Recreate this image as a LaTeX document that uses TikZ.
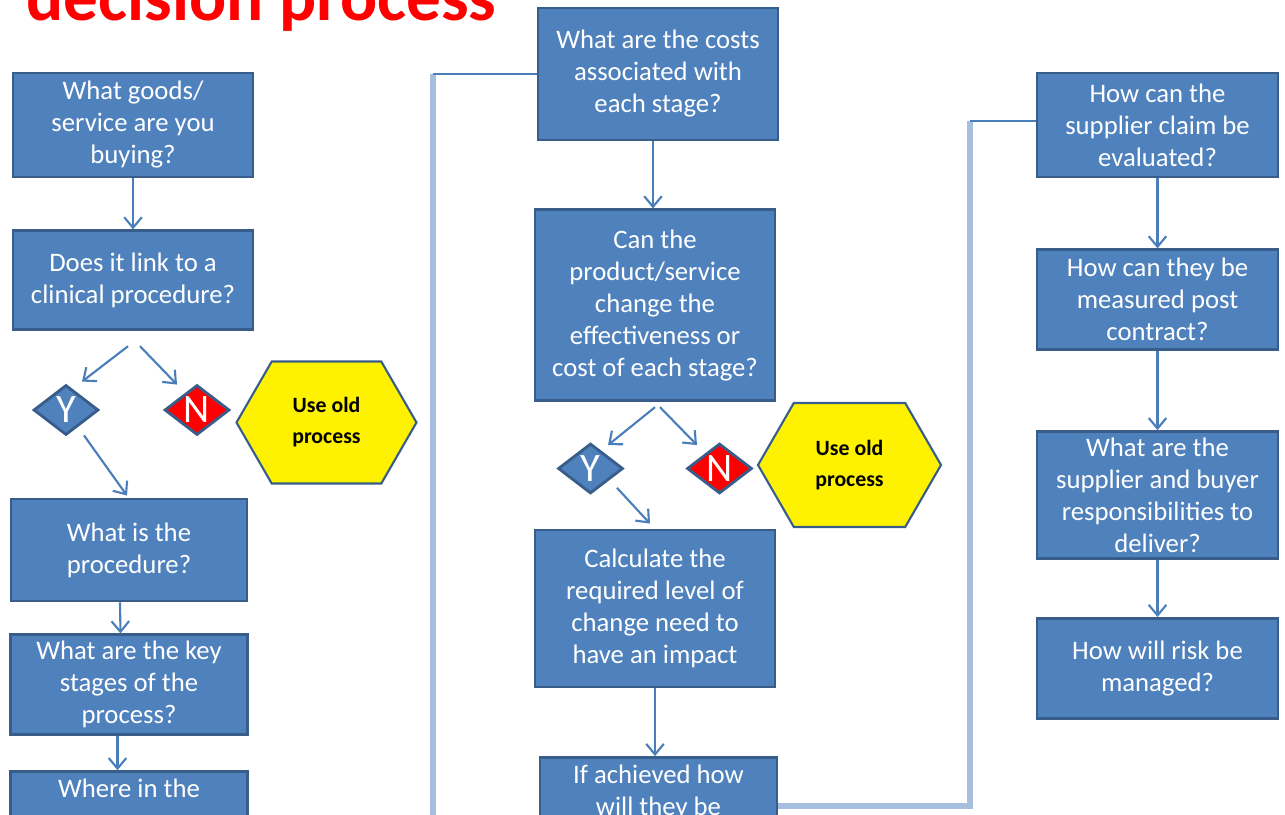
\documentclass[tikz,border=0pt]{standalone}
\usepackage{fontspec}
\setmainfont{Carlito}
\usetikzlibrary{arrows.meta,positioning,calc,shapes.geometric,shapes.symbols}
\definecolor{boxblue}{HTML}{4F81BD}
\definecolor{boxline}{HTML}{385D8A}
\definecolor{linkblue}{HTML}{4A7EBB}
\definecolor{paleblue}{HTML}{A7BFDE}
\definecolor{titlered}{HTML}{FF0000}
\tikzset{main base/.style={draw=boxline,line width=0.8pt,text centered,align=center}, }
\tikzset{main node/.style={rectangle,main base,fill=boxblue,text=white,
    inner xsep=2pt,inner ysep=0.5pt,minimum width=2.4cm,
    font=\fontsize{7.6}{9.1}\selectfont}, }
\tikzset{choice base/.style={diamond,main base,inner sep=0pt,
    minimum width=0.65cm,minimum height=0.5cm}, }
\tikzset{yes node/.style={choice base,fill=boxblue,
    label={[text=white,font=\fontsize{11.5}{12}\selectfont]center:Y}}, }
\tikzset{no node/.style={choice base,fill=red,
    label={[text=white,font=\fontsize{11.5}{12}\selectfont]center:N}}, }
\tikzset{old node/.style={signal,signal to=east and west,signal pointer angle=120,
    main base,line width=0.6pt,fill=yellow,inner sep=1pt,
    minimum width=1.8cm,minimum height=1.22cm,
    font=\fontsize{6.2}{8.8}\selectfont\bfseries}, }
\tikzset{title text/.style={anchor=base west,inner sep=0pt,text=titlered,
    font=\fontsize{19.7}{24}\selectfont\bfseries}, }
\tikzset{linea/.style={-{Straight Barb[length=3pt,width=5pt]},draw=linkblue,line width=0.6pt}}
\tikzset{linea2/.style={draw=linkblue,line width=0.7pt}}
\tikzset{linea3/.style={draw=paleblue,line width=1.9pt}}

\begin{document}
\begin{tikzpicture}
  \useasboundingbox (0,0) rectangle (12.85,-8.15);
  \node[title text] (0) at (0.26,-0.21) {decision process};
  % left column
  \node[main node,minimum height=1.04cm] (1) at (1.33,-1.25) {What goods/\\service are you\\buying?};
  \node[main node,minimum height=0.99cm] (2) [below=0.51cm of 1] {Does it link to a\\clinical procedure?};
  \node[yes node] (3) at (0.66,-4.10) {};
  \node[no node] (4) at (1.97,-4.10) {};
  \node[old node] (5) at (3.265,-4.225) {Use old\\process};
  \node[main node,minimum width=2.36cm,minimum height=1.02cm] (6) at (1.29,-5.50) {What is the\\procedure?};
  \node[main node,minimum width=2.37cm,minimum height=1.0cm] (7) [below=0.31cm of 6] {What are the key\\stages of the\\process?};
  \node[main node,minimum width=2.37cm,minimum height=0.98cm] (8) [below=0.34cm of 7] {Where in the\\~\\~};
  % middle column
  \node[main node,minimum height=1.32cm] (9) at (6.58,-0.74) {What are the costs\\associated with\\each stage?};
  \node[main node,minimum height=1.91cm] (10) [below=0.67cm of 9,xshift=-0.03cm] {Can the\\product/service\\change the\\effectiveness or\\cost of each stage?};
  \node[yes node] (11) at (5.905,-4.685) {};
  \node[no node] (12) at (7.195,-4.685) {};
  \node[old node,minimum width=1.83cm,minimum height=1.24cm] (13) at (8.495,-4.65) {Use old\\process};
  \node[main node,minimum height=1.57cm] (14) at (6.55,-6.085) {Calculate the\\required level of\\change need to\\have an impact};
  \node[main node,minimum width=2.37cm,minimum height=0.97cm] (15) at (6.585,-8.06) {If achieved how\\will they be\\~};
  % right column
  \node[main node,minimum width=2.41cm,minimum height=1.04cm] (16) at (11.575,-1.25) {How can the\\supplier claim be\\evaluated?};
  \node[main node,minimum width=2.41cm,minimum height=1.0cm] (17) [below=0.70cm of 16] {How can they be\\measured post\\contract?};
  \node[main node,minimum width=2.41cm,minimum height=1.27cm] (18) [below=0.79cm of 17] {What are the\\supplier and buyer\\responsibilities to\\deliver?};
  \node[main node,minimum width=2.41cm,minimum height=1.0cm] (19) [below=0.57cm of 18] {How will risk be\\managed?};
  % long links
  \coordinate (lbend) at (4.33,-0.74);
  \coordinate (rbend) at (9.70,-1.21);
  \draw[linea3] (8.east) -| (lbend);
  \draw[linea2] (lbend) -- (9.west);
  \draw[linea3] (15.east) -| (rbend);
  \draw[linea2] (rbend) -- (16.west |- rbend);

  \foreach \x/\y/\a/\b in {1/2/0/0,6/7/-0.09/-0.085,7/8/-0.115/-0.115,9/10/-0.05/-0.02,
      14/15/0/-0.035,16/17/0/0,17/18/0/0,18/19/0/0}
    \draw[linea] ([xshift=\a cm]\x.south) -- ([xshift=\b cm]\y.north);
  \draw[linea] ([xshift=-0.05cm,yshift=-0.15cm]2.south) -- ([xshift=0.16cm,yshift=0.02cm]3.north);
  \draw[linea] ([xshift=0.07cm,yshift=-0.15cm]2.south) -- ([xshift=-0.20cm,yshift=-0.01cm]4.north);
  \draw[linea] ([xshift=0.18cm,yshift=0.01cm]3.south) -- ([xshift=-0.02cm,yshift=0.02cm]6.north);
  \draw[linea] ([yshift=-0.05cm]10.south) -- ([xshift=0.175cm,yshift=-0.03cm]11.north);
  \draw[linea] ([xshift=0.05cm,yshift=-0.05cm]10.south) -- ([xshift=-0.225cm,yshift=-0.03cm]12.north);
  \draw[linea] ([xshift=0.265cm,yshift=0.07cm]11.south) -- ([xshift=-0.05cm,yshift=0.05cm]14.north);
  %
\end{tikzpicture}
\end{document}
